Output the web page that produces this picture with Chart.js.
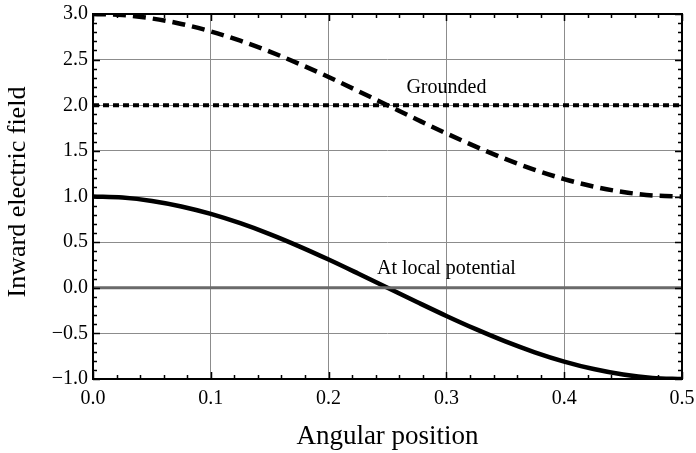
<!DOCTYPE html>
<html>
<head>
<meta charset="utf-8">
<script src="https://cdn.jsdelivr.net/npm/chart.js@4/dist/chart.umd.min.js"></script>
<style>
  html, body { margin: 0; padding: 0; background: #fff; }
  #wrap { width: 696px; height: 453px; position: relative; }
</style>
</head>
<body>
<div id="wrap"><canvas id="c"></canvas></div>
<script>
// angular positions sampled along the curves
var positions = [0, 0.025, 0.05, 0.075, 0.1, 0.125, 0.15, 0.175, 0.2, 0.225, 0.25,
                 0.275, 0.3, 0.325, 0.35, 0.375, 0.4, 0.425, 0.45, 0.475, 0.5];
// solid curve: field at local potential
var localField = [1.0, 0.988, 0.951, 0.891, 0.809, 0.707, 0.588, 0.454, 0.309, 0.156, 0.0,
                  -0.156, -0.309, -0.454, -0.588, -0.707, -0.809, -0.891, -0.951, -0.988, -1.0];
// dashed curve
var dashedField = [3.0, 2.988, 2.951, 2.891, 2.809, 2.707, 2.588, 2.454, 2.309, 2.156, 2.0,
                   1.844, 1.691, 1.546, 1.412, 1.293, 1.191, 1.109, 1.049, 1.012, 1.0];
// flat lines
var groundedLevel = 2.0;
var zeroLevel = 0.0;
var xEnds = [0, 0.5];

var xTicks = [0, 0.1, 0.2, 0.3, 0.4, 0.5];
var yTicks = [-1, -0.5, 0, 0.5, 1, 1.5, 2, 2.5, 3];

var annotations = [
  { text: 'Grounded', x: 0.30, y: 2.19 },
  { text: 'At local potential', x: 0.30, y: 0.21 }
];
var xTitle = 'Angular position';
var yTitle = 'Inward electric field';

var FONT = '"Liberation Serif", "DejaVu Serif", serif';

function pts(xs, ys) {
  return xs.map(function (x, i) { return { x: x, y: ys[i] }; });
}

function noOverflow(s) {
  s.paddingTop = 0; s.paddingBottom = 0; s.paddingLeft = 0; s.paddingRight = 0;
}

var framePlugin = {
  id: 'frame',
  afterDatasetsDraw: function (chart) {
    var ctx = chart.ctx, a = chart.chartArea;
    var xs = chart.scales.x, ys = chart.scales.y;
    ctx.save();
    // in-plot labels
    ctx.fillStyle = '#000';
    ctx.font = '20px ' + FONT;
    ctx.textAlign = 'center';
    ctx.textBaseline = 'middle';
    annotations.forEach(function (an) {
      ctx.fillText(an.text, xs.getPixelForValue(an.x), ys.getPixelForValue(an.y));
    });
    // axis titles
    ctx.font = '27px ' + FONT;
    ctx.fillText(xTitle, (a.left + a.right) / 2, 437);
    ctx.save();
    ctx.translate(18, 192);
    ctx.rotate(-Math.PI / 2);
    ctx.font = '26px ' + FONT;
    ctx.fillText(yTitle, 0, 0);
    ctx.restore();
    // inward ticks
    ctx.strokeStyle = '#000';
    ctx.lineWidth = 1.5;
    ctx.beginPath();
    var v, p, len;
    for (var i = 0; i <= 25; i++) {
      v = i * 0.02;
      p = Math.round(xs.getPixelForValue(v)) + 0.5;
      len = (i % 5 === 0) ? 7 : 4;
      ctx.moveTo(p, a.bottom); ctx.lineTo(p, a.bottom - len);
      ctx.moveTo(p, a.top); ctx.lineTo(p, a.top + len);
    }
    for (var j = 0; j <= 40; j++) {
      v = -1 + j * 0.1;
      p = Math.round(ys.getPixelForValue(v)) + 0.5;
      len = (j % 5 === 0) ? 7 : 4;
      ctx.moveTo(a.left, p); ctx.lineTo(a.left + len, p);
      ctx.moveTo(a.right, p); ctx.lineTo(a.right - len, p);
    }
    ctx.stroke();
    // frame
    ctx.lineWidth = 2;
    ctx.strokeRect(a.left, a.top, a.right - a.left, a.bottom - a.top);
    ctx.restore();
  }
};

new Chart(document.getElementById('c'), {
  type: 'line',
  data: {
    datasets: [
      {
        label: 'zero',
        data: pts(xEnds, [zeroLevel, zeroLevel]),
        borderColor: '#6a6a6a',
        borderWidth: 3,
        pointRadius: 0
      },
      {
        label: 'Grounded',
        data: pts(xEnds, [groundedLevel, groundedLevel]),
        borderColor: '#000',
        borderWidth: 4,
        borderDash: [6, 4],
        borderCapStyle: 'butt',
        pointRadius: 0
      },
      {
        label: 'dashed',
        data: pts(positions, dashedField),
        borderColor: '#000',
        borderWidth: 4.5,
        borderDash: [13, 7],
        cubicInterpolationMode: 'monotone',
        pointRadius: 0
      },
      {
        label: 'At local potential',
        data: pts(positions, localField),
        borderColor: '#000',
        borderWidth: 4.5,
        cubicInterpolationMode: 'monotone',
        pointRadius: 0
      }
    ]
  },
  options: {
    responsive: true,
    maintainAspectRatio: false,
    animation: false,
    layout: { padding: { top: 14, right: 14, left: 0, bottom: 0 } },
    plugins: { legend: { display: false }, tooltip: { enabled: false } },
    scales: {
      x: {
        type: 'linear',
        min: 0, max: 0.5,
        afterBuildTicks: function (s) { s.ticks = xTicks.map(function (v) { return { value: v }; }); },
        afterFit: function (s) { s.height = 74; noOverflow(s); },
        grid: { color: '#8c8c8c', lineWidth: 1, drawTicks: false },
        border: { display: false },
        ticks: {
          color: '#000', padding: 8,
          font: { family: FONT, size: 20 },
          callback: function (v) { return v.toFixed(1); }
        }
      },
      y: {
        min: -1, max: 3,
        afterBuildTicks: function (s) { s.ticks = yTicks.map(function (v) { return { value: v }; }); },
        afterFit: function (s) { s.width = 93; noOverflow(s); },
        grid: { color: '#8c8c8c', lineWidth: 1, drawTicks: false },
        border: { display: false },
        ticks: {
          color: '#000', padding: 5,
          font: { family: FONT, size: 20 },
          callback: function (v) { return v.toFixed(1).replace('-', '\u2212'); }
        }
      }
    }
  },
  plugins: [framePlugin]
});
</script>
</body>
</html>
